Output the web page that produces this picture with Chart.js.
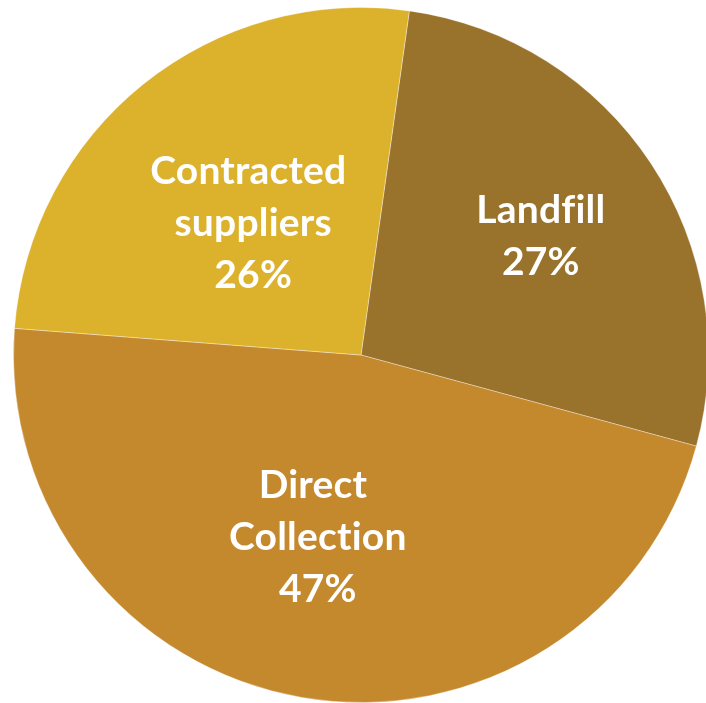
<!DOCTYPE html>
<html>
<head>
<meta charset="utf-8">
<script src="https://cdn.jsdelivr.net/npm/chart.js@4.4.0/dist/chart.umd.min.js"></script>
<style>
html, body { margin: 0; padding: 0; background: #ffffff; overflow: hidden; width: 706px; height: 703px; }
#wrap { position: absolute; left: 13px; top: 7px; width: 696px; height: 696px; }
</style>
</head>
<body>
<div id="wrap"><canvas id="c"></canvas></div>
<script>
const categories = ["Landfill", "Direct Collection", "Contracted suppliers"];
const labelLines = [["Landfill"], ["Direct ", "Collection"], ["Contracted ", "suppliers"]];
const values = [27, 47, 26];
const colors = ["#99722C", "#C4882D", "#DCB12C"];
const labelRadius = [0.62, 0.54, 0.49];
const labelAngleShift = [0, 3.5, -0.5];

const sliceLabels = {
  id: 'sliceLabels',
  afterDatasetsDraw(chart) {
    const ctx = chart.ctx;
    const meta = chart.getDatasetMeta(0);
    const total = values.reduce((a, b) => a + b, 0);
    ctx.save();
    ctx.fillStyle = '#ffffff';
    ctx.font = 'bold 39px Lato, "Open Sans", sans-serif';
    ctx.textAlign = 'center';
    ctx.textBaseline = 'middle';
    try { ctx.letterSpacing = '0.2px'; } catch (e) {}
    meta.data.forEach((arc, i) => {
      const p = arc.getProps(['x', 'y', 'startAngle', 'endAngle', 'outerRadius'], true);
      const mid = (p.startAngle + p.endAngle) / 2 + labelAngleShift[i] * Math.PI / 180;
      const r = p.outerRadius * labelRadius[i];
      const cx = p.x + Math.cos(mid) * r;
      const cy = p.y + Math.sin(mid) * r;
      const lines = labelLines[i].concat([Math.round(values[i] / total * 100) + '%']);
      const lh = 52;
      lines.forEach((t, k) => {
        ctx.fillText(t, cx, cy + (k - (lines.length - 1) / 2) * lh);
      });
    });
    ctx.restore();
  }
};

new Chart(document.getElementById('c'), {
  type: 'pie',
  data: {
    labels: categories,
    datasets: [{
      data: values,
      backgroundColor: colors,
      borderColor: 'rgba(255,255,255,0.35)',
      borderWidth: 1
    }]
  },
  options: {
    responsive: true,
    maintainAspectRatio: false,
    animation: false,
    rotation: 8,
    layout: { padding: 0 },
    plugins: {
      legend: { display: false },
      tooltip: { enabled: false }
    }
  },
  plugins: [sliceLabels]
});
</script>
</body>
</html>
